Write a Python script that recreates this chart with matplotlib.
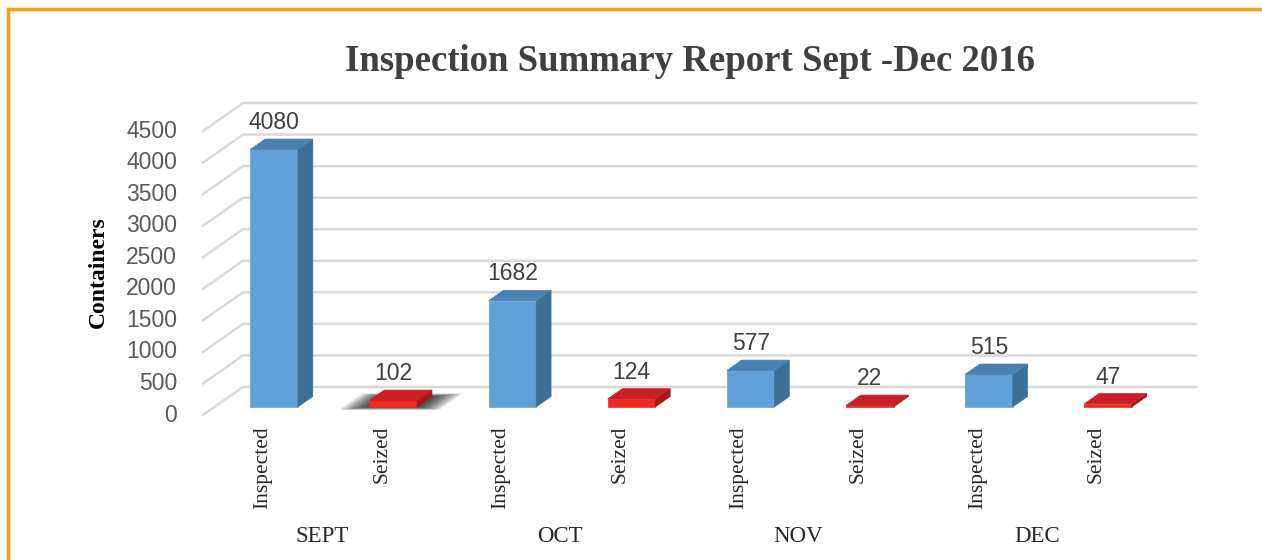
import matplotlib.pyplot as plt
from matplotlib.patches import Polygon
from matplotlib.lines import Line2D

months = ["SEPT", "OCT", "NOV", "DEC"]
series = ["Inspected", "Seized"]
inspected = [4080, 1682, 577, 515]
seized = [102, 124, 22, 47]
yticks = [0, 500, 1000, 1500, 2000, 2500, 3000, 3500, 4000, 4500]

# oblique 3d look: depth shift in data units
DX = 40 / 119
DY = 444
D0, D1 = 0.29, 0.66
W = 0.4


def P(x, v, d):
    return (x + DX * d, v + DY * d)


def bar3d(ax, c, v, front, side, top):
    l, r = c - W / 2, c + W / 2
    faces = [
        ([P(l, 0, D0), P(r, 0, D0), P(r, v, D0), P(l, v, D0)], front),
        ([P(r, 0, D0), P(r, 0, D1), P(r, v, D1), P(r, v, D0)], side),
        ([P(l, v, D0), P(r, v, D0), P(r, v, D1), P(l, v, D1)], top),
    ]
    for pts, col in faces:
        ax.add_patch(Polygon(pts, closed=True, facecolor=col, edgecolor=col, lw=0.5, zorder=3))


fig = plt.figure(figsize=(12.62, 5.6), dpi=100)
ax = fig.add_axes([203 / 1262, (560 - 415) / 560, (1196 - 203) / 1262, (415 - 103) / 560])
ax.set_xlim(0, 8 + DX)
ax.set_ylim(0, 4500 + DY)
ax.axis('off')

grid_col = '#d9d9d9'
for v in yticks:
    x0, y0 = P(0, v, 0)
    x1, y1 = P(0, v, 1)
    x2, y2 = P(8, v, 1)
    ax.plot([x0, x1, x2], [y0, y1, y2], color=grid_col, lw=1.8, zorder=1, clip_on=False,
            solid_joinstyle='miter')
    ax.annotate(str(v), (0, v), xytext=(-26, 0), textcoords='offset pixels',
                ha='right', va='center', fontsize=16.5, color='#595959',
                family='Liberation Sans', annotation_clip=False)

# soft shadow under SEPT seized bar
c = 1.5
for k in range(14, 0, -1):
    e = k * 0.008
    pts = [P(c - W / 2 - e * 2.0, 0, D0 - e), P(c + W / 2 + e * 2.0, 0, D0 - e),
           P(c + W / 2 + e * 2.0, 0, D1 + e), P(c - W / 2 - e * 2.0, 0, D1 + e)]
    ax.add_patch(Polygon(pts, closed=True, facecolor='black', edgecolor='none',
                         alpha=0.08, zorder=2))

for i in range(len(months)):
    ci = 2 * i + 0.5
    cs = 2 * i + 1.5
    bar3d(ax, ci, inspected[i], '#62a0d8', '#3e6f96', '#4b81b2')
    bar3d(ax, cs, seized[i], '#f02a1e', '#a81a1a', '#c82026')
    for cc, v in ((ci, inspected[i]), (cs, seized[i])):
        x, _ = P(cc, v, D0)
        _, y = P(cc, v, D1)
        ax.annotate(str(v), (x, y), xytext=(0, 5), textcoords='offset pixels',
                    ha='center', va='bottom', fontsize=16.5, color='#404040',
                    family='Liberation Sans', annotation_clip=False, zorder=4)
    for cc, name in ((ci, series[0]), (cs, series[1])):
        ax.annotate(name, (cc, 0), xytext=(0, -11), textcoords='offset pixels',
                    ha='center', va='top', rotation=90, fontsize=15.5, color='#262626',
                    family='Liberation Serif', annotation_clip=False)
    ax.annotate(months[i], (2 * i + 1, 0), xytext=(0, -122), textcoords='offset pixels',
                ha='center', va='center', fontsize=16.5, color='#262626',
                family='Liberation Serif', annotation_clip=False)

fig.text(98 / 1262, 1 - 272 / 560, "Containers", rotation=90, ha='center', va='center',
         fontsize=17, fontweight='bold', family='Liberation Serif', color='black')
fig.text(690 / 1262, 1 - 61 / 560, "Inspection Summary Report Sept -Dec 2016",
         ha='center', va='center', fontsize=26.5, fontweight='bold',
         family='Liberation Serif', color='#404040')

# orange frame (top and left edges)
fig.add_artist(Line2D([8 / 1262, 1], [1 - 9 / 560, 1 - 9 / 560], color='#f5a01c', lw=2.5))
fig.add_artist(Line2D([8 / 1262, 8 / 1262], [0, 1 - 9 / 560], color='#f5a01c', lw=2.5))

fig.savefig('out.png', dpi=100)
